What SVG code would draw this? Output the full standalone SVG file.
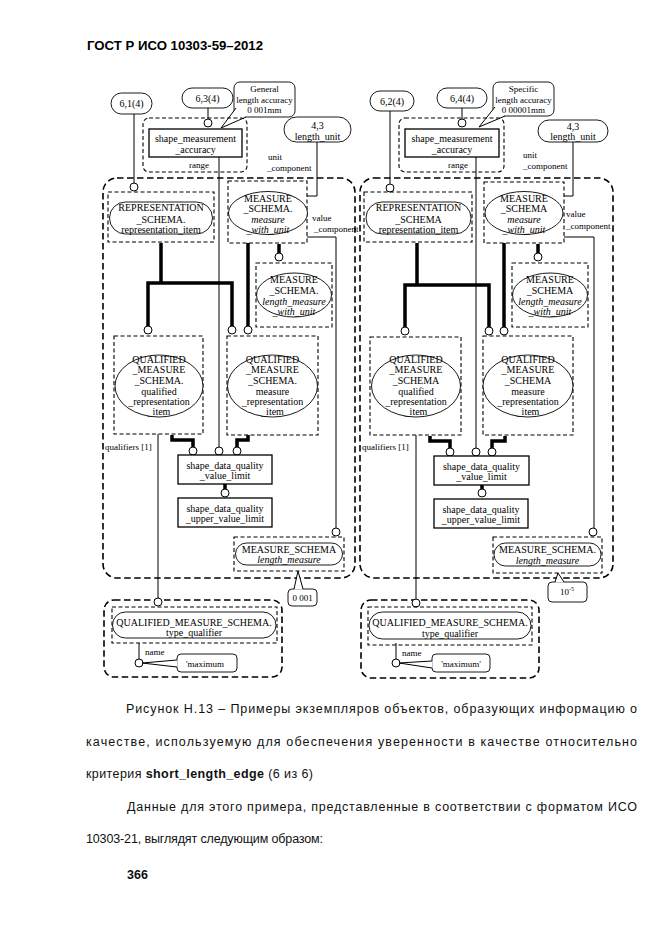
<svg xmlns="http://www.w3.org/2000/svg" width="661" height="935" viewBox="0 0 661 935">
<style>
.t{font-family:"Liberation Serif",serif;font-size:10px;text-anchor:middle;fill:#000}
.s9{font-size:9px}
.l{text-anchor:start}
.i{font-style:italic}
.big{fill:none;stroke:#000;stroke-width:1.6;stroke-dasharray:6.5 3.5}
.nd{fill:none;stroke:#000;stroke-width:1.1;stroke-dasharray:4 2.5}
.box{fill:#fff;stroke:#000;stroke-width:1.3}
.sh{fill:#fff;stroke:#000;stroke-width:0.9}
.thin{fill:none;stroke:#000;stroke-width:1}
.thick{fill:none;stroke:#000;stroke-width:3.5}
.c{fill:#fff;stroke:#000;stroke-width:1}
.cap{font-family:"Liberation Sans",Arial,sans-serif;font-size:12.5px;fill:#111}
</style>
<rect width="661" height="935" fill="#fff"/>
<text x="87" y="50" font-family="Liberation Sans,Arial,sans-serif" font-weight="bold" font-size="12.5" textLength="176" lengthAdjust="spacingAndGlyphs">ГОСТ Р ИСО 10303-59–2012</text>

<!-- LEFT DIAGRAM -->
<g id="left">
  <g id="L-group-main"><rect class="big" x="103" y="178" width="252" height="400" rx="14"/></g>
  <g id="L-group-bottom"><rect class="big" x="104" y="600" width="178" height="77" rx="10"/></g>
  <g id="L-connectors">
    <path class="thin" d="M134,114 V183"/>
    <path class="thin" d="M208,107 V119"/>
    <path class="thin" d="M219,157 V447"/>
    <path class="thin" d="M317,142 V196 H307"/>
    <path class="thin" d="M307,237 H336 V528"/>
    <path class="thin" d="M158,434 V598"/>
    <path class="thin" d="M139,643 V659"/>
    <path class="thick" d="M148,326 V283 H232 V326 M161,243 V283"/>
    <path class="thick" d="M248,243 V326"/>
    <path class="thick" d="M279,244 V253"/>
    <path class="thick" d="M172,435 V440 H193 V447"/>
    <path class="thick" d="M248,435 V440 H237 V447"/>
    <path class="thick" d="M225,484 V489"/>
    <circle class="c" cx="134" cy="187" r="4"/>
    <circle class="c" cx="208" cy="123" r="4"/>
    <circle class="c" cx="148" cy="330" r="4"/>
    <circle class="c" cx="232" cy="330" r="4"/>
    <circle class="c" cx="248" cy="330" r="4"/>
    <circle class="c" cx="279" cy="257" r="4"/>
    <circle class="c" cx="193" cy="451" r="4"/>
    <circle class="c" cx="219" cy="451" r="4"/>
    <circle class="c" cx="237" cy="451" r="4"/>
    <circle class="c" cx="225" cy="493" r="4"/>
    <circle class="c" cx="336" cy="532" r="4"/>
    <circle class="c" cx="158" cy="602" r="4"/>
    <circle class="c" cx="139" cy="663" r="4"/>
  </g>
  <g id="L-ref-61">
    <rect class="sh" x="111" y="93" width="41" height="21" rx="10.5"/>
    <text class="t" x="131.5" y="107">6,1(4)</text>
  </g>
  <g id="L-ref-63">
    <rect class="sh" x="182" y="88" width="51" height="20" rx="10"/>
    <text class="t" x="207.5" y="101.5">6,3(4)</text>
  </g>
  <g id="L-note-general">
    <rect class="sh" x="234" y="82" width="61" height="35" rx="6"/>
    <polygon points="236,108 221,128 246,117" fill="#fff"/>
    <polyline class="thin" points="236,108 221,128 246,117" stroke-width="0.9"/>
    <text class="t s9" x="264.5" y="92">General</text>
    <text class="t s9" x="264.5" y="103">length accuracy</text>
    <text class="t s9" x="264.5" y="113">0 001mm</text>
  </g>
  <g id="L-shape-measurement-accuracy">
    <rect class="nd" x="143" y="118" width="104" height="54" rx="6"/>
    <rect class="box" x="149" y="129" width="93" height="28"/>
    <text class="t" x="195.5" y="141.5">shape_measurement</text>
    <text class="t" x="195.5" y="152.5">_accuracy</text>
    <text class="t s9" x="199" y="168">range</text>
  </g>
  <g id="L-ref-length-unit">
    <rect class="sh" x="284" y="117" width="67" height="25" rx="12.5"/>
    <text class="t" x="317.5" y="128.5">4,3</text>
    <text class="t" x="317.5" y="139.5">length_unit</text>
  </g>
  <g id="L-labels">
    <text class="t s9 l" x="268" y="160">unit</text>
    <text class="t s9 l" x="267" y="171">_component</text>
    <text class="t s9 l" x="312" y="221">value</text>
    <text class="t s9 l" x="314" y="232">_component</text>
    <text class="t s9 l" x="105" y="450">qualifiers [1]</text>
    <text class="t s9 l" x="145" y="655">name</text>
  </g>
  <g id="L-representation-item">
    <rect class="nd" x="108" y="192" width="106" height="50"/>
    <rect class="sh" x="109.5" y="202" width="103" height="32" rx="16"/>
    <text class="t" x="161" y="211">REPRESENTATION</text>
    <text class="t" x="161" y="222.5">_SCHEMA.</text>
    <text class="t" x="161" y="232.5">representation_item</text>
  </g>
  <g id="L-measure-with-unit">
    <rect class="nd" x="228" y="181" width="79" height="62"/>
    <ellipse class="sh" cx="268" cy="213" rx="39.5" ry="21.5"/>
    <text class="t" x="268" y="201.5">MEASURE</text>
    <text class="t" x="268" y="212">_SCHEMA.</text>
    <text class="t i" x="268" y="222.5">measure</text>
    <text class="t i" x="268" y="232.5">_with_unit</text>
  </g>
  <g id="L-length-measure-with-unit">
    <rect class="nd" x="256" y="263" width="76" height="64"/>
    <ellipse class="sh" cx="294" cy="295" rx="37.5" ry="22"/>
    <text class="t" x="294" y="282.5">MEASURE</text>
    <text class="t" x="294" y="293.5">_SCHEMA.</text>
    <text class="t i" x="294" y="304.5">length_measure</text>
    <text class="t i" x="294" y="314.5">_with_unit</text>
  </g>
  <g id="L-qualified-representation-item">
    <rect class="nd" x="114" y="336" width="89" height="98"/>
    <ellipse class="sh" cx="159" cy="386" rx="44" ry="31"/>
    <text class="t" x="159" y="362.5">QUALIFIED</text>
    <text class="t" x="159" y="373">_MEASURE</text>
    <text class="t" x="159" y="383.5">_SCHEMA.</text>
    <text class="t" x="159" y="394.5">qualified</text>
    <text class="t" x="159" y="405">_representation</text>
    <text class="t" x="159" y="415">_item</text>
  </g>
  <g id="L-measure-representation-item">
    <rect class="nd" x="227" y="336" width="91" height="99"/>
    <ellipse class="sh" cx="272.5" cy="386" rx="45" ry="31"/>
    <text class="t" x="272.5" y="362.5">QUALIFIED</text>
    <text class="t" x="272.5" y="373">_MEASURE</text>
    <text class="t" x="272.5" y="383.5">_SCHEMA.</text>
    <text class="t" x="272.5" y="394.5">measure</text>
    <text class="t" x="272.5" y="405">_representation</text>
    <text class="t" x="272.5" y="415">_item</text>
  </g>
  <g id="L-value-limit">
    <rect class="box" x="178" y="455" width="94" height="29"/>
    <text class="t" x="225" y="468.5">shape_data_quality</text>
    <text class="t" x="225" y="479">_value_limit</text>
  </g>
  <g id="L-upper-value-limit">
    <rect class="box" x="178" y="498" width="94" height="29"/>
    <text class="t" x="225" y="511.5">shape_data_quality</text>
    <text class="t" x="225" y="522">_upper_value_limit</text>
  </g>
  <g id="L-length-measure">
    <rect class="nd" x="234" y="537" width="110" height="34"/>
    <rect class="sh" x="235.5" y="543" width="107" height="22" rx="11"/>
    <text class="t" x="289" y="552.5">MEASURE_SCHEMA</text>
    <text class="t i" x="289" y="563">length_measure</text>
  </g>
  <g id="L-note-value">
    <rect class="sh" x="288" y="589" width="29" height="17" rx="4"/>
    <polygon points="294,589.5 298,571 303,589.5" fill="#fff"/>
    <polyline class="thin" points="294,589 298,571 303,589" stroke-width="0.9"/>
    <text class="t s9" x="302.5" y="600.5">0 001</text>
  </g>
  <g id="L-type-qualifier">
    <rect class="nd" x="112" y="607" width="165" height="36"/>
    <rect class="sh" x="112.5" y="612" width="163.5" height="26" rx="13"/>
    <text class="t" x="194" y="626">QUALIFIED_MEASURE_SCHEMA.</text>
    <text class="t" x="194" y="636">type_qualifier</text>
  </g>
  <g id="L-note-maximum">
    <rect class="sh" x="177" y="654" width="60" height="18" rx="4"/>
    <polygon points="177.5,660 142,663 177.5,667" fill="#fff"/>
    <polyline class="thin" points="177,660 142,663 177,667" stroke-width="0.9"/>
    <text class="t s9" x="205" y="666.5">'maximum</text>
  </g>
</g>

<!-- RIGHT DIAGRAM -->
<g id="right" transform="translate(257,0)">
  <g id="R-group-main"><rect class="big" x="103" y="178" width="253" height="400" rx="14"/></g>
  <g id="R-group-bottom"><rect class="big" x="104" y="600" width="178" height="78" rx="10"/></g>
  <g id="R-connectors">
    <path class="thin" d="M133,111 V184"/>
    <path class="thin" d="M205,108 V119"/>
    <path class="thin" d="M219,157 V448"/>
    <path class="thin" d="M316,142 V196 H307"/>
    <path class="thin" d="M307,237 H337 V528"/>
    <path class="thin" d="M159,435 V599"/>
    <path class="thin" d="M139,643 V659"/>
    <path class="thick" d="M148,327 V285 H232 V327 M160,243 V285"/>
    <path class="thick" d="M247,243 V327"/>
    <path class="thick" d="M281,244 V253"/>
    <path class="thick" d="M173,436 V441 H193 V448"/>
    <path class="thick" d="M248,436 V441 H235 V448"/>
    <path class="thick" d="M225,485 V489"/>
    <circle class="c" cx="133" cy="188" r="4"/>
    <circle class="c" cx="205" cy="123" r="4"/>
    <circle class="c" cx="148" cy="331" r="4"/>
    <circle class="c" cx="232" cy="331" r="4"/>
    <circle class="c" cx="247" cy="331" r="4"/>
    <circle class="c" cx="281" cy="257" r="4"/>
    <circle class="c" cx="193" cy="452" r="4"/>
    <circle class="c" cx="219" cy="452" r="4"/>
    <circle class="c" cx="235" cy="452" r="4"/>
    <circle class="c" cx="225" cy="493" r="4"/>
    <circle class="c" cx="336" cy="532" r="4"/>
    <circle class="c" cx="159" cy="603" r="4"/>
    <circle class="c" cx="139" cy="663" r="4"/>
  </g>
  <g id="R-ref-62">
    <rect class="sh" x="113" y="91" width="44" height="20" rx="10"/>
    <text class="t" x="135" y="104.5">6,2(4)</text>
  </g>
  <g id="R-ref-64">
    <rect class="sh" x="180" y="88" width="50" height="20" rx="10"/>
    <text class="t" x="205" y="101.5">6,4(4)</text>
  </g>
  <g id="R-note-specific">
    <rect class="sh" x="236" y="82" width="61" height="34" rx="6"/>
    <polygon points="238,107 222,127 248,116" fill="#fff"/>
    <polyline class="thin" points="238,107 222,127 248,116" stroke-width="0.9"/>
    <text class="t s9" x="266.5" y="91.5">Specific</text>
    <text class="t s9" x="266.5" y="102.5">length accuracy</text>
    <text class="t s9" x="266.5" y="112.5">0 00001mm</text>
  </g>
  <g id="R-shape-measurement-accuracy">
    <rect class="nd" x="142" y="118" width="105" height="54" rx="6"/>
    <rect class="box" x="148" y="129" width="94" height="28"/>
    <text class="t" x="195" y="141.5">shape_measurement</text>
    <text class="t" x="195" y="152.5">_accuracy</text>
    <text class="t s9" x="201" y="168">range</text>
  </g>
  <g id="R-ref-length-unit">
    <rect class="sh" x="281" y="120" width="70" height="22" rx="11"/>
    <text class="t" x="316" y="130">4,3</text>
    <text class="t" x="316" y="140">length_unit</text>
  </g>
  <g id="R-labels">
    <text class="t s9 l" x="266" y="158">unit</text>
    <text class="t s9 l" x="266" y="169">_component</text>
    <text class="t s9 l" x="309" y="217">value</text>
    <text class="t s9 l" x="309" y="229">_component</text>
    <text class="t s9 l" x="105" y="450">qualifiers [1]</text>
    <text class="t s9 l" x="145" y="656">name</text>
  </g>
  <g id="R-representation-item">
    <rect class="nd" x="107" y="192" width="108" height="50"/>
    <rect class="sh" x="109" y="202" width="105" height="32" rx="16"/>
    <text class="t" x="161.5" y="211">REPRESENTATION</text>
    <text class="t" x="161.5" y="222.5">_SCHEMA</text>
    <text class="t" x="161.5" y="232.5">representation_item</text>
  </g>
  <g id="R-measure-with-unit">
    <rect class="nd" x="227" y="182" width="80" height="61"/>
    <ellipse class="sh" cx="267" cy="213" rx="39" ry="21.5"/>
    <text class="t" x="267" y="201.5">MEASURE</text>
    <text class="t" x="267" y="212">_SCHEMA</text>
    <text class="t i" x="267" y="222.5">measure</text>
    <text class="t i" x="267" y="232.5">_with_unit</text>
  </g>
  <g id="R-length-measure-with-unit">
    <rect class="nd" x="255" y="263" width="76" height="64"/>
    <ellipse class="sh" cx="293" cy="295" rx="37.5" ry="22"/>
    <text class="t" x="293" y="282.5">MEASURE</text>
    <text class="t" x="293" y="293.5">_SCHEMA</text>
    <text class="t i" x="293" y="304.5">length_measure</text>
    <text class="t i" x="293" y="314.5">_with_unit</text>
  </g>
  <g id="R-qualified-representation-item">
    <rect class="nd" x="113" y="337" width="91" height="98"/>
    <ellipse class="sh" cx="159" cy="386" rx="44.5" ry="31"/>
    <text class="t" x="159" y="362.5">QUALIFIED</text>
    <text class="t" x="159" y="373">_MEASURE</text>
    <text class="t" x="159" y="383.5">_SCHEMA</text>
    <text class="t" x="159" y="394.5">qualified</text>
    <text class="t" x="159" y="405">_representation</text>
    <text class="t" x="159" y="415">_item</text>
  </g>
  <g id="R-measure-representation-item">
    <rect class="nd" x="226" y="336" width="90" height="99"/>
    <ellipse class="sh" cx="271" cy="386" rx="45" ry="31"/>
    <text class="t" x="271" y="362.5">QUALIFIED</text>
    <text class="t" x="271" y="373">_MEASURE</text>
    <text class="t" x="271" y="383.5">_SCHEMA</text>
    <text class="t" x="271" y="394.5">measure</text>
    <text class="t" x="271" y="405">_representation</text>
    <text class="t" x="271" y="415">_item</text>
  </g>
  <g id="R-value-limit">
    <rect class="box" x="177" y="456" width="95" height="29"/>
    <text class="t" x="224.5" y="469.5">shape_data_quality</text>
    <text class="t" x="224.5" y="480">_value_limit</text>
  </g>
  <g id="R-upper-value-limit">
    <rect class="box" x="177" y="499" width="94" height="29"/>
    <text class="t" x="224" y="512.5">shape_data_quality</text>
    <text class="t" x="224" y="523">_upper_value_limit</text>
  </g>
  <g id="R-length-measure">
    <rect class="nd" x="236" y="537" width="109" height="36"/>
    <rect class="sh" x="237" y="543" width="107" height="23" rx="11.5"/>
    <text class="t" x="290.5" y="553">MEASURE_SCHEMA.</text>
    <text class="t i" x="290.5" y="563.5">length_measure</text>
  </g>
  <g id="R-note-value">
    <rect class="sh" x="291" y="582" width="39" height="20" rx="4"/>
    <polygon points="298,582.5 301,573 307,582.5" fill="#fff"/>
    <polyline class="thin" points="298,582 301,573 307,582" stroke-width="0.9"/>
    <text class="t s9" x="310" y="595">10<tspan font-size="6" dy="-4">-5</tspan></text>
  </g>
  <g id="R-type-qualifier">
    <rect class="nd" x="111" y="607" width="164" height="38"/>
    <rect class="sh" x="112" y="612" width="162" height="27" rx="13.5"/>
    <text class="t" x="193" y="626">QUALIFIED_MEASURE_SCHEMA.</text>
    <text class="t" x="193" y="636.5">type_qualifier</text>
  </g>
  <g id="R-note-maximum">
    <rect class="sh" x="175" y="654" width="58" height="18" rx="4"/>
    <polygon points="175.5,661 142,663 175.5,668" fill="#fff"/>
    <polyline class="thin" points="175,661 142,663 175,668" stroke-width="0.9"/>
    <text class="t s9" x="204" y="667">'maximum'</text>
  </g>
</g>

<!-- CAPTION -->
<g id="caption">
  <text class="cap" x="126" y="713" textLength="511" lengthAdjust="spacing">Рисунок Н.13 – Примеры экземпляров объектов, образующих информацию о</text>
  <text class="cap" x="86" y="746" textLength="551" lengthAdjust="spacing">качестве, используемую для обеспечения уверенности в качестве относительно</text>
  <text class="cap" x="86" y="778" textLength="227" lengthAdjust="spacing">критерия <tspan font-weight="bold">short_length_edge</tspan> (6 из 6)</text>
  <text class="cap" x="127" y="811" textLength="510" lengthAdjust="spacing">Данные для этого примера, представленные в соответствии с форматом ИСО</text>
  <text class="cap" x="86" y="843" textLength="237" lengthAdjust="spacing">10303-21, выглядят следующим образом:</text>
  <text class="cap" x="127" y="879" font-weight="bold">366</text>
</g>
</svg>
